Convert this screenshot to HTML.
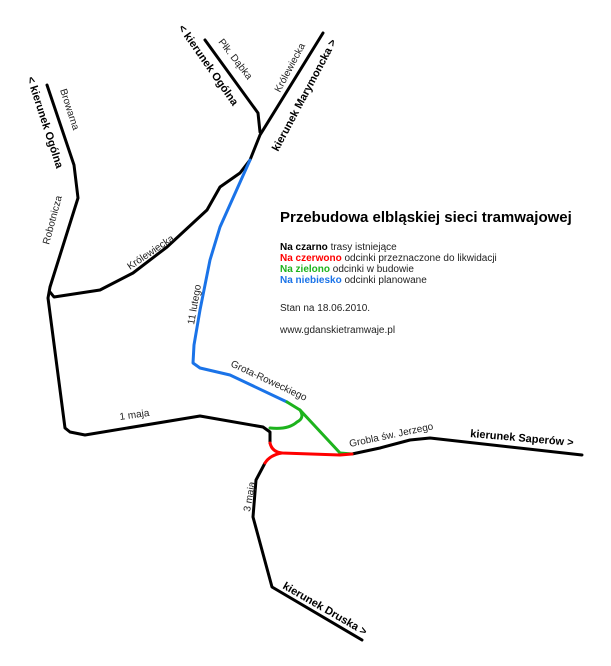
<!DOCTYPE html>
<html><head><meta charset="utf-8"><style>
body{margin:0;background:#fff;width:611px;height:666px;overflow:hidden}
svg{display:block}
text{font-family:"Liberation Sans",Verdana,sans-serif}
.l{font-size:10px;fill:#222}
.b{font-size:11px;font-weight:bold;fill:#000}
</style></head><body>
<svg width="611" height="666" viewBox="0 0 611 666" fill="none" stroke-linecap="round" stroke-linejoin="round">
<g stroke="#000" stroke-width="3">
<polyline points="47,85 74,165 78,198 50,287 48,298 65,428 70,432 85,435 200,416 263,427 270,432 270,443"/>
<polyline points="50,292 54,297 100,290 133,273 167,247 207,210 220,187 240,173 250,160 260,135 323,33"/>
<polyline points="205,40 258,113 260,132"/>
<polyline points="265,463 256,480 253,517 272,587 362,640"/>
<polyline points="352,454 380,448 410,440 430,438 582,455"/>
</g>
<polyline stroke="#1a73e8" stroke-width="3" points="250,160 220,227 210,260 200,310 194,345 193,363 200,368 230,375 287,402"/>
<g stroke="#1db31d" stroke-width="3">
<polyline points="287,402 300,410 340,453 352,454"/>
<path d="M300,410 Q305,418 297,422 Q288,430 270,428"/>
</g>
<g stroke="#f00" stroke-width="3">
<path d="M270,443 Q272,452 282,453 L340,455 L352,454"/>
<path d="M282,453 Q270,455 265,463"/>
</g>
<text class="l" transform="translate(60,90) rotate(72)">Browarna</text>
<text class="b" transform="translate(27,78) rotate(72)">&lt; kierunek Ogólna</text>
<text class="l" transform="translate(49,245) rotate(-75)">Robotnicza</text>
<text class="l" transform="translate(130,270) rotate(-34)">Królewiecka</text>
<text class="l" transform="translate(218,42) rotate(52)">Płk. Dąbka</text>
<text class="b" transform="translate(178,28) rotate(55)">&lt; kierunek Ogólna</text>
<text class="l" transform="translate(280,93) rotate(-62)">Królewiecka</text>
<text class="b" transform="translate(278,152) rotate(-62)">kierunek Marymoncka &gt;</text>
<text class="l" transform="translate(194,325) rotate(-80)">11 lutego</text>
<text class="l" transform="translate(230,366) rotate(25)">Grota-Roweckiego</text>
<text class="l" transform="translate(120,420) rotate(-8)">1 maja</text>
<text class="l" transform="translate(250,512) rotate(-80)">3 maja</text>
<text class="l" transform="translate(350,447) rotate(-12)">Grobla św. Jerzego</text>
<text class="b" transform="translate(470,437) rotate(5)">kierunek Saperów &gt;</text>
<text class="b" transform="translate(282,588) rotate(30)">kierunek Druska &gt;</text>
<text x="280" y="222" style="font-size:15px;font-weight:bold;fill:#000">Przebudowa elbląskiej sieci tramwajowej</text>
<text x="280" y="250" style="font-size:10px"><tspan font-weight="bold" fill="#000">Na czarno</tspan><tspan fill="#222"> trasy istniejące</tspan></text>
<text x="280" y="261" style="font-size:10px"><tspan font-weight="bold" fill="#f00">Na czerwono</tspan><tspan fill="#222"> odcinki przeznaczone do likwidacji</tspan></text>
<text x="280" y="272" style="font-size:10px"><tspan font-weight="bold" fill="#1db31d">Na zielono</tspan><tspan fill="#222"> odcinki w budowie</tspan></text>
<text x="280" y="283" style="font-size:10px"><tspan font-weight="bold" fill="#1a73e8">Na niebiesko</tspan><tspan fill="#222"> odcinki planowane</tspan></text>
<text x="280" y="311" class="l">Stan na 18.06.2010.</text>
<text x="280" y="333" class="l">www.gdanskietramwaje.pl</text>
</svg>
</body></html>
